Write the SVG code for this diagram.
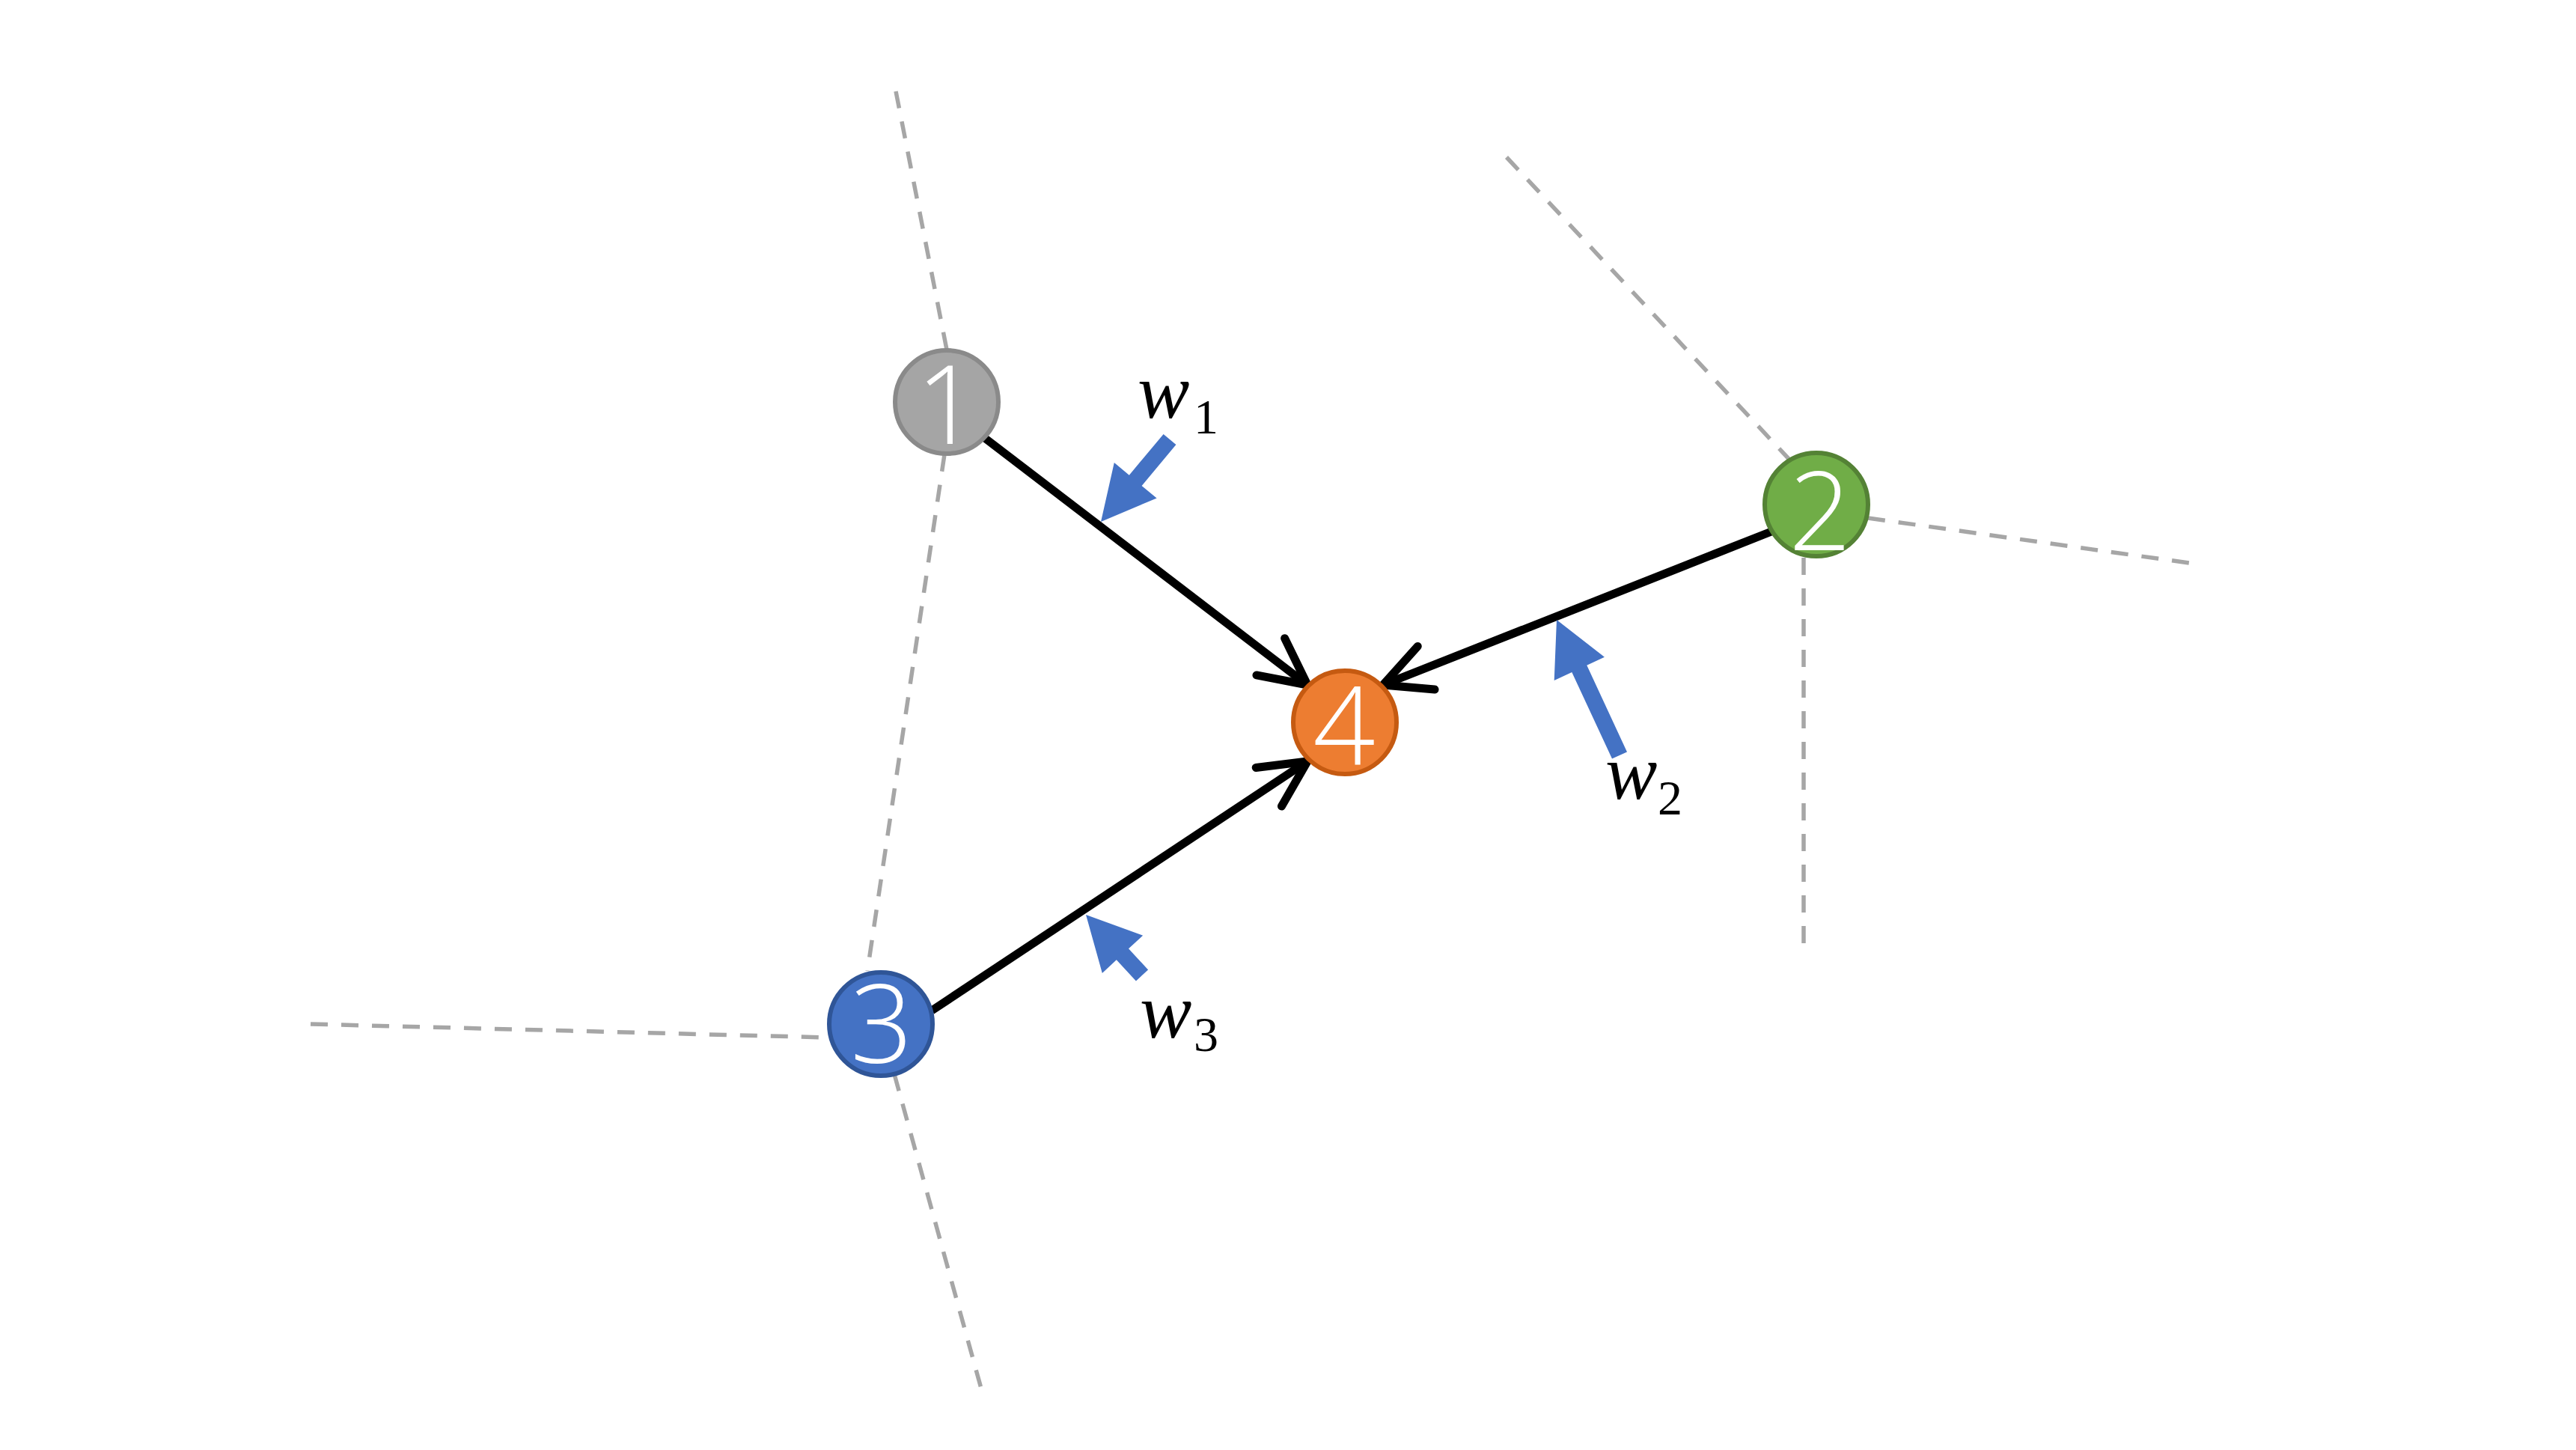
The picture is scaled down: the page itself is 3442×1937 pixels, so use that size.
<svg xmlns="http://www.w3.org/2000/svg" width="3442" height="1937" viewBox="0 0 3442 1937">
<style>
.dash{stroke:#A6A6A6;stroke-width:5.5;stroke-dasharray:23 18;fill:none}
.edge{stroke:#000;stroke-width:11;fill:none}
.node{stroke-width:6}
.num{font-family:"Open Sans","Liberation Sans",sans-serif;font-weight:300;font-size:146px;fill:#fff;text-anchor:middle}
.w{font-family:"Liberation Serif",serif;font-style:italic;font-size:104px;fill:#000}
.sub{font-family:"Liberation Serif",serif;font-size:66px;fill:#000}
.warrow{fill:#4472C4}
</style>
<defs>
<marker id="chev" markerUnits="userSpaceOnUse" orient="auto" refX="0" refY="0" markerWidth="100" markerHeight="100" viewBox="-80 -50 100 100" overflow="visible">
<path d="M -62,-31 L 0,0 L -62,31" fill="none" stroke="#000" stroke-width="11" stroke-linecap="round" stroke-linejoin="round"/>
</marker>
</defs>
<rect width="3442" height="1937" fill="#fff"/>
<g id="boundaries">
<line class="dash" x1="1197" y1="122" x2="1265" y2="467"/>
<line class="dash" x1="1262" y1="607" x2="1159" y2="1297"/>
<line class="dash" x1="415" y1="1368" x2="1106" y2="1386"/>
<line class="dash" x1="1195" y1="1435" x2="1313" y2="1862"/>
<line class="dash" x1="2013" y1="210" x2="2392" y2="615"/>
<line class="dash" x1="2496" y1="692" x2="2925" y2="752"/>
<line class="dash" x1="2410" y1="745" x2="2410" y2="1267"/>
</g>
<g id="connectors">
<line class="edge" x1="1313" y1="583" x2="1747" y2="915" marker-end="url(#chev)"/>
<line class="edge" x1="2367" y1="710" x2="1848" y2="915" marker-end="url(#chev)"/>
<line class="edge" x1="1245" y1="1350" x2="1747" y2="1017" marker-end="url(#chev)"/>
</g>
<g id="node1">
<circle class="node" cx="1265" cy="537" r="69" fill="#A5A5A5" stroke="#8A8A8A"/>
<text class="num" x="1266" y="593">1</text>
</g>
<g id="node2">
<circle class="node" cx="2427" cy="674" r="69" fill="#70AD47" stroke="#548235"/>
<text class="num" x="2432" y="735">2</text>
</g>
<g id="node3">
<circle class="node" cx="1177" cy="1368" r="69" fill="#4472C4" stroke="#2F5597"/>
<text class="num" x="1178" y="1420">3</text>
</g>
<g id="node4">
<circle class="node" cx="1797" cy="965" r="69" fill="#ED7D31" stroke="#C55A11"/>
<text class="num" x="1796" y="1022">4</text>
</g>
<g id="weight1">
<polygon class="warrow" points="1571.4,594.1 1525.6,648.9 1545.6,665.5 1471,697 1488.8,618.1 1508.8,634.7 1554.6,579.9"/>
<text class="w" x="1520" y="558">w</text>
<text class="sub" x="1595" y="579">1</text>
</g>
<g id="weight2">
<polygon class="warrow" points="2174.0,1004.4 2120.3,888.7 2143.9,877.7 2080,828 2076.7,908.9 2100.3,897.9 2154.0,1013.6"/>
<text class="w" x="2145" y="1067">w</text>
<text class="sub" x="2215" y="1088">2</text>
</g>
<g id="weight3">
<polygon class="warrow" points="1534.1,1295.5 1508.0,1267.3 1527.1,1249.7 1451,1222 1472.8,1299.9 1491.8,1282.3 1517.9,1310.5"/>
<text class="w" x="1523" y="1386">w</text>
<text class="sub" x="1595" y="1404">3</text>
</g>
</svg>
